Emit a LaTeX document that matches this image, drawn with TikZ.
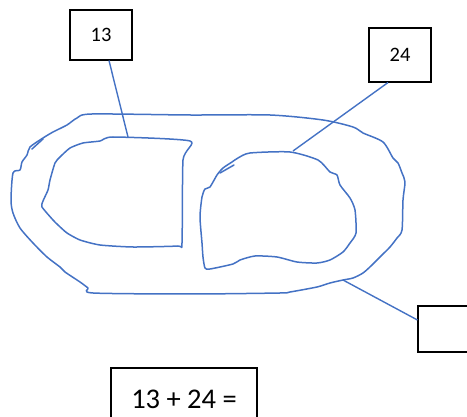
\documentclass[tikz,border=0pt]{standalone}
\usepackage{fontspec}
\setmainfont{Carlito}
\definecolor{lineblue}{RGB}{68,114,196}
\tikzset{
  labelbox/.style={draw=black, line width=1.1pt, fill=white, inner sep=0pt, font=\fontsize{20.5}{23}\selectfont},
  sumbox/.style={draw=black, line width=1.1pt, fill=white, inner sep=0pt, font=\fontsize{28.5}{32}\selectfont},
  sketch/.style={draw=lineblue, line width=1.5pt, line join=round, line cap=round},
  link/.style={draw=lineblue, line width=1.4pt}
}
\begin{document}
\begin{tikzpicture}[x=1pt,y=-1pt]
\useasboundingbox (0,0) rectangle (467,417);
\clip (0,0) rectangle (467,417);
% outer loop
\draw[sketch] plot[smooth cycle, tension=0.45] coordinates {
 (92,114) (190,115) (270,115) (323,120) (353,127) (363,133) (383,142)
 (393,158) (398,163) (402,173) (405,182) (403,200) (402,230) (397,238)
 (390,247) (382,255) (372,265) (363,273) (353,278) (343,280) (330,283)
 (317,287) (290,292) (280,293) (190,294) (93,293) (88,288) (80,282)
 (65,272) (60,267) (47,257) (33,243) (20,228) (13,213) (11,200) (13,173)
 (20,170) (22,162) (27,155) (30,147) (43,138) (53,132) (67,125) (77,118)};
\draw[sketch] (32,149) -- (43,139);
% inner left
\draw[sketch] plot[smooth cycle, tension=0.35] coordinates {
 (113,137) (190,141) (183,160) (182,243) (178,246) (133,247) (100,245)
 (80,240) (67,233) (58,225) (53,220) (42,207) (43,201) (48,190) (50,180)
 (55,163) (60,157) (70,148) (83,143) (100,141)};
% inner right
\draw[sketch] plot[smooth cycle, tension=0.4] coordinates {
 (250,153) (290,152) (318,160) (330,172) (337,175) (340,185) (350,198)
 (355,210) (356,233) (350,243) (343,252) (330,260) (317,263) (297,262)
 (277,257) (255,256) (240,260) (233,264) (210,269) (205,268) (203,257)
 (202,243) (200,217) (202,197) (205,189) (210,187) (217,175) (223,168)
 (232,162) (238,158)};
\draw[sketch] (220,173) -- (234,165);
% anchors on the shapes
\coordinate (c13) at (128,137);
\coordinate (c24) at (293,151);
\coordinate (cout) at (343,280);
% boxes
\node[labelbox, minimum width=62pt, minimum height=50pt] (n13) at (101,35) {13};
\node[labelbox, minimum width=62pt, minimum height=54pt] (n24) at (400,55) {24};
\node[labelbox, minimum width=72pt, minimum height=46pt] (nout) at (454,329) {};
\node[sumbox, minimum width=146pt, minimum height=62pt] (nsum) at (184,399) {13 + 24 =};
% connectors
\draw[link] ([xshift=8pt]n13.south) -- (c13);
\draw[link] ([xshift=-12pt]n24.south) -- (c24);
\draw[link] (cout) -- ([yshift=9pt]nout.west);
\end{tikzpicture}
\end{document}
